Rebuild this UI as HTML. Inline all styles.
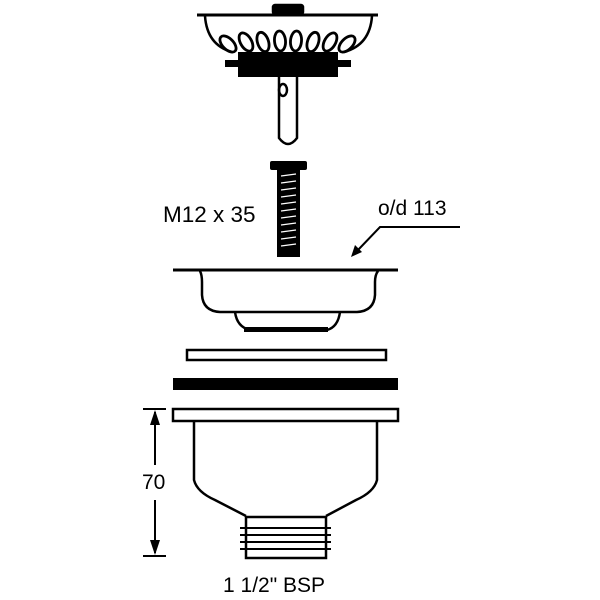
<!DOCTYPE html>
<html><head><style>body{margin:0;background:#fff}svg{display:block}</style></head><body>
<svg width="600" height="600" viewBox="0 0 600 600" xmlns="http://www.w3.org/2000/svg" font-family="Liberation Sans, sans-serif">
<rect width="600" height="600" fill="#fff"/>
<g stroke="#000" fill="none" stroke-width="2.5">
<!-- strainer -->
<rect x="273" y="5" width="30" height="9" fill="#000" rx="2"/>
<line x1="197" y1="15" x2="378" y2="15" stroke-width="3"/>
<path d="M205 16 Q207 45 232 52 M372 16 Q370 45 344 52"/>
<g stroke-width="2.8">
<ellipse cx="228" cy="44" rx="5.5" ry="10" transform="rotate(-45 228 44)"/>
<ellipse cx="246" cy="42" rx="5.5" ry="10" transform="rotate(-30 246 42)"/>
<ellipse cx="263" cy="42" rx="5.5" ry="10" transform="rotate(-18 263 42)"/>
<ellipse cx="280" cy="41" rx="5.5" ry="10" transform="rotate(-5 280 41)"/>
<ellipse cx="296" cy="41" rx="5.5" ry="10" transform="rotate(5 296 41)"/>
<ellipse cx="313" cy="42" rx="5.5" ry="10" transform="rotate(18 313 42)"/>
<ellipse cx="330" cy="42" rx="5.5" ry="10" transform="rotate(30 330 42)"/>
<ellipse cx="347" cy="44" rx="5.5" ry="10" transform="rotate(45 347 44)"/>
</g>
<rect x="238" y="52" width="100" height="25" fill="#000" stroke="none"/>
<rect x="225" y="60" width="126" height="7" fill="#000" stroke="none"/>
<path d="M279 77 V138 Q288 150 297 138 V77"/>
<ellipse cx="283" cy="90" rx="4" ry="6"/>
<!-- bolt -->
<rect x="270" y="161" width="37" height="9" fill="#000" stroke="none" rx="2"/>
<rect x="277" y="170" width="23" height="87" fill="#000" stroke="none"/>
<g stroke="#fff" stroke-width="1.3">
<line x1="281" y1="176" x2="296" y2="174"/><line x1="281" y1="183" x2="296" y2="181"/>
<line x1="281" y1="190" x2="296" y2="188"/><line x1="281" y1="197" x2="296" y2="195"/>
<line x1="281" y1="204" x2="296" y2="202"/><line x1="281" y1="211" x2="296" y2="209"/>
<line x1="281" y1="218" x2="296" y2="216"/><line x1="281" y1="225" x2="296" y2="223"/>
<line x1="281" y1="232" x2="296" y2="230"/><line x1="281" y1="239" x2="296" y2="237"/>
<line x1="281" y1="246" x2="296" y2="244"/>
</g>
<!-- leader -->
<path d="M460 227 H380 L358 250" stroke-width="2"/>
<path d="M351 257 L355 245 L362 252 Z" fill="#000" stroke="none"/>
<!-- upper bowl -->
<line x1="173" y1="270" x2="398" y2="270" stroke-width="3"/>
<path d="M200 271 Q202 275 202 282 V295 Q203 311 220 312 H357 Q374 311 375 295 V282 Q375 275 378 271"/>
<path d="M235 312 Q237 327 250 330 H327 Q338 327 340 312"/>
<rect x="244" y="327" width="84" height="5" fill="#000" stroke="none"/>
<!-- washers -->
<rect x="187" y="350" width="199" height="10" stroke-width="2.5"/>
<rect x="173" y="378" width="225" height="12" fill="#000" stroke="none"/>
<rect x="173" y="409" width="225" height="12" stroke-width="2.5"/>
<!-- body -->
<path d="M194 421 V480 Q197 492 215 500 L246 516 M377 421 V480 Q374 492 356 500 L326 516"/>
<rect x="246" y="517" width="80" height="41"/>
<g stroke-width="2">
<line x1="240" y1="528" x2="331" y2="528"/><line x1="240" y1="535" x2="331" y2="535"/>
<line x1="240" y1="542" x2="331" y2="542"/><line x1="240" y1="549" x2="331" y2="549"/>
</g>
<!-- dimension -->
<line x1="143" y1="409" x2="166" y2="409" stroke-width="2"/>
<line x1="143" y1="556" x2="166" y2="556" stroke-width="2"/>
<line x1="155" y1="412" x2="155" y2="465" stroke-width="2"/>
<line x1="155" y1="500" x2="155" y2="553" stroke-width="2"/>
<path d="M155 410 L150 425 L160 425 Z M155 555 L150 540 L160 540 Z" fill="#000" stroke="none"/>
</g>
<g fill="#000">
<text x="163" y="222" font-size="22.5">M12 x 35</text>
<text x="378" y="215" font-size="21">o/d 113</text>
<text x="142" y="489" font-size="21">70</text>
<text x="223" y="592" font-size="21">1 1/2" BSP</text>
</g>
</svg>
</body></html>
